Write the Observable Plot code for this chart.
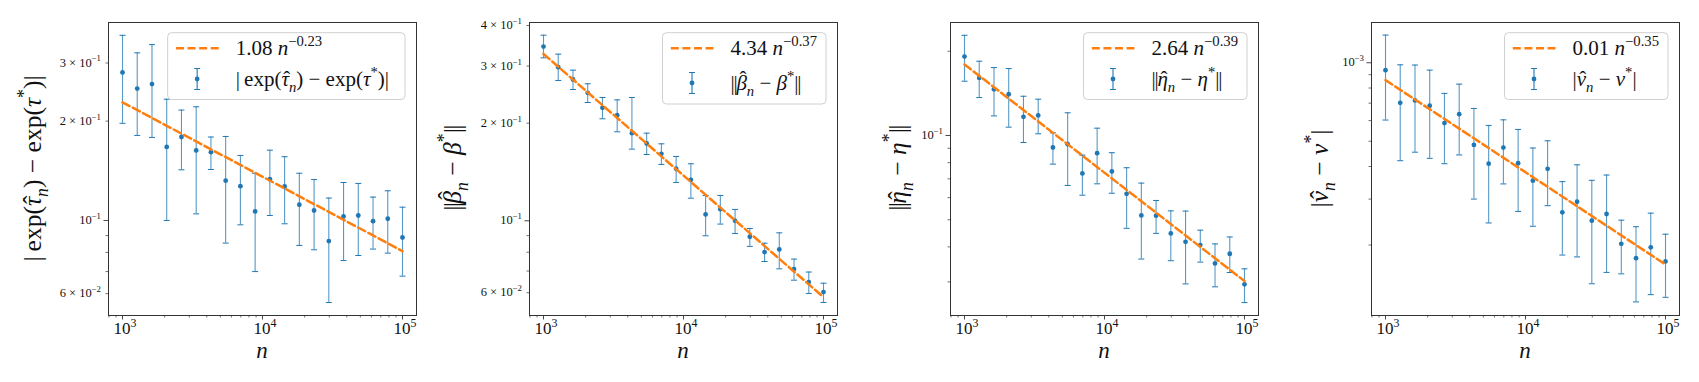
<!DOCTYPE html>
<html><head><meta charset="utf-8">
<script src="https://cdn.jsdelivr.net/npm/d3@7"></script>
<script src="https://cdn.jsdelivr.net/npm/@observablehq/plot@0.6"></script>
<style>
body{margin:0;background:#fff;}
#row{display:flex;width:1699px;height:382px;overflow:hidden;}
#row svg{flex:none;max-width:none;overflow:visible;}
svg text{white-space:pre;}
.rt{font-family:'Liberation Serif','DejaVu Serif',serif;fill:#111;}
</style></head><body><div id="row"></div>
<script>
// ---------- data ----------
const nValues = [1000, 1274, 1624, 2069, 2637, 3360, 4281, 5456, 6952, 8859, 11288, 14384, 18330, 23357, 29764, 37927, 48329, 61585, 78476, 100000];

const tauMean = [0.281, 0.251, 0.259, 0.167, 0.179, 0.163, 0.161, 0.132, 0.127, 0.1065, 0.1334, 0.1268, 0.1116, 0.1072, 0.0866, 0.1028, 0.1035, 0.0995, 0.1012, 0.0888];
const tauLow  = [0.197, 0.181, 0.1785, 0.100, 0.1424, 0.1047, 0.1427, 0.0854, 0.0970, 0.0700, 0.1035, 0.0977, 0.0840, 0.0815, 0.0564, 0.0756, 0.0783, 0.0819, 0.0796, 0.0678];
const tauHigh = [0.364, 0.322, 0.341, 0.233, 0.216, 0.221, 0.179, 0.1797, 0.1574, 0.139, 0.1633, 0.156, 0.139, 0.133, 0.1169, 0.1303, 0.1295, 0.1177, 0.123, 0.1097];

const betaMean = [0.3446, 0.2977, 0.2727, 0.248, 0.223, 0.2117, 0.1863, 0.1731, 0.1609, 0.1447, 0.1338, 0.1046, 0.1086, 0.1000, 0.0893, 0.0801, 0.0816, 0.0710, 0.0647, 0.0603];
const betaLow  = [0.318, 0.2708, 0.254, 0.2316, 0.2063, 0.1881, 0.1663, 0.1601, 0.1492, 0.1313, 0.1174, 0.0899, 0.0977, 0.0914, 0.0834, 0.0749, 0.0711, 0.0656, 0.0597, 0.0560];
const betaHigh = [0.3735, 0.3265, 0.2914, 0.2645, 0.240, 0.236, 0.240, 0.1863, 0.1727, 0.1579, 0.1499, 0.1197, 0.1197, 0.1084, 0.0947, 0.0853, 0.0918, 0.0762, 0.0695, 0.0642];

const etaMean = [0.1914, 0.1606, 0.1463, 0.1404, 0.1166, 0.1179, 0.0906, 0.0931, 0.0732, 0.0865, 0.0744, 0.0619, 0.0518, 0.0517, 0.0447, 0.0417, 0.0406, 0.0349, 0.0378, 0.0294];
const etaLow  = [0.1563, 0.1366, 0.1175, 0.1071, 0.0944, 0.1014, 0.0790, 0.0663, 0.0612, 0.0672, 0.0622, 0.0466, 0.0362, 0.0447, 0.0357, 0.0295, 0.0353, 0.0288, 0.0324, 0.0253];
const etaHigh = [0.228, 0.1842, 0.1748, 0.1734, 0.1381, 0.1348, 0.1022, 0.1205, 0.0851, 0.1062, 0.0868, 0.0767, 0.0676, 0.0586, 0.0538, 0.0537, 0.0459, 0.0410, 0.0434, 0.0334];

const nuMean = [9.37e-4, 7.02e-4, 7.17e-4, 6.84e-4, 5.87e-4, 6.35e-4, 4.84e-4, 4.10e-4, 4.73e-4, 4.12e-4, 3.53e-4, 3.92e-4, 2.67e-4, 2.93e-4, 2.48e-4, 2.63e-4, 2.02e-4, 1.78e-4, 1.96e-4, 1.73e-4];
const nuLow  = [6.03e-4, 4.21e-4, 4.54e-4, 4.30e-4, 4.10e-4, 4.43e-4, 3.00e-4, 2.43e-4, 3.43e-4, 2.69e-4, 2.36e-4, 2.83e-4, 1.83e-4, 1.80e-4, 1.42e-4, 1.57e-4, 1.55e-4, 1.21e-4, 1.29e-4, 1.26e-4];
const nuHigh = [1.277e-3, 9.82e-4, 9.80e-4, 9.37e-4, 7.63e-4, 8.28e-4, 6.68e-4, 5.75e-4, 6.04e-4, 5.55e-4, 4.71e-4, 5.02e-4, 3.50e-4, 4.06e-4, 3.54e-4, 3.71e-4, 2.49e-4, 2.35e-4, 2.65e-4, 2.20e-4];

// fitted power laws  a * n^(-b)
const fitCoef = [1.083, 4.36, 2.60, 0.00987];
const fitExp  = [0.2255, 0.375, 0.387, 0.3536];
const fitCoefLabel = ["1.08", "4.34", "2.64", "0.01"];
const fitExpLabel  = ["−0.23", "−0.37", "−0.39", "−0.35"];

// axes
const xDomain = [794.3, 125893];
const xMajor = [1e3, 1e4, 1e5];
const xMajorExp = ["3", "4", "5"];
const xMinor = [800, 900, 2000, 3000, 4000, 5000, 6000, 7000, 8000, 9000, 20000, 30000, 40000, 50000, 60000, 70000, 80000, 90000];

const yDomains = [[0.05152, 0.398], [0.05105, 0.4087], [0.02275, 0.2533], [1.073e-4, 1.427e-3]];
const yMajor = [[0.1], [0.1], [0.1], [1e-3]];
const yMinor = [
  [0.06, 0.07, 0.08, 0.09, 0.2, 0.3],
  [0.06, 0.07, 0.08, 0.09, 0.2, 0.3, 0.4],
  [0.03, 0.04, 0.05, 0.06, 0.07, 0.08, 0.09, 0.2],
  [2e-4, 3e-4, 4e-4, 5e-4, 6e-4, 7e-4, 8e-4, 9e-4]
];
const yTickValues = [[0.3, 0.2, 0.1, 0.06], [0.4, 0.3, 0.2, 0.1, 0.06], [0.1], [1e-3]];
const yTickMant   = [["3 × ", "2 × ", "", "6 × "], ["4 × ", "3 × ", "2 × ", "", "6 × "], [""], [""]];
const yTickExp    = [["−1", "−1", "−1", "−2"], ["−1", "−1", "−1", "−1", "−2"], ["−1"], ["−3"]];

// labels (rich text segments: [text, flags])
const yLabels = [
  [["|\u2009exp("], ["τ", "i hat"], ["n", "i sub"], [") − exp("], ["τ", "i"], ["*", "sup"], [")|"]],
  [["||"], ["β", "i hat tall"], ["n", "i sub"], [" − "], ["β", "i"], ["*", "sup"], ["||"]],
  [["||"], ["η", "i hat"], ["n", "i sub"], [" − "], ["η", "i"], ["*", "sup"], ["||"]],
  [["|"], ["ν", "i hat"], ["n", "i sub"], [" − "], ["ν", "i"], ["*", "sup"], ["|"]]
];
const xLabel = "n";

// ---------- drawing ----------
const series = [
  [tauMean, tauLow, tauHigh], [betaMean, betaLow, betaHigh],
  [etaMean, etaLow, etaHigh], [nuMean, nuLow, nuHigh]
];
const blue = "#1f77b4", orange = "#ff7f0e";
const panelW = [421, 421, 421, 436];
const frameW = 308, frameH = 293, mL = 108, mT = 22, H = 382;
const yLabelOffset = [-75, -76, -52, -51];
const capSymbol = {draw(ctx) { ctx.moveTo(-3, 0); ctx.lineTo(3, 0); }};

function rich(text, segs, size) {
  text.attr("class", "rt");
  let shift = 0, pendingDx = 0;
  for (const [t, f = ""] of segs) {
    const flags = f.split(" ");
    const small = flags.includes("sub") || flags.includes("sup");
    const target = flags.includes("sub") ? 0.28 * size : flags.includes("sup") ? -0.42 * size : 0;
    const ts = text.append("tspan").text(t)
      .attr("dy", target - shift)
      .attr("dx", pendingDx)
      .attr("font-size", small ? size * 0.7 : size)
      .attr("font-style", flags.includes("i") ? "italic" : "normal");
    if (t === "||") ts.attr("letter-spacing", -0.06 * size);
    pendingDx = 0;
    shift = target;
    if (flags.includes("hat")) {
      const lw = ts.node().getComputedTextLength();
      const lift = flags.includes("tall") ? -0.2 * size : -0.02 * size;
      const hat = text.append("tspan").text("ˆ")
        .attr("font-size", size).attr("font-style", "normal").attr("dy", lift - shift);
      const hw = hat.node().getComputedTextLength();
      const skew = 0.07 * size;
      hat.attr("dx", -(lw + hw) / 2 + skew);
      pendingDx = (lw - hw) / 2 - skew;
      shift = lift;
    }
  }
  return text;
}

const row = document.getElementById("row");
series.forEach(([mean, low, high], k) => {
  const W = panelW[k];
  const fitN = [nValues[0], nValues[nValues.length - 1]];
  const chart = Plot.plot({
    width: W, height: H,
    marginLeft: mL, marginRight: W - mL - frameW, marginTop: mT, marginBottom: H - mT - frameH,
    x: {type: "log", domain: xDomain},
    y: {type: "log", domain: yDomains[k]},
    style: {background: "white", overflow: "visible"},
    marks: [
      Plot.axisX(xMinor, {anchor: "bottom", tickSize: 2.5, strokeWidth: 0.7, stroke: "#333", fill: "none", label: null}),
      Plot.axisX(xMajor, {anchor: "bottom", tickSize: 4.5, strokeWidth: 0.9, stroke: "#333", fill: "none", label: null}),
      Plot.axisY(yMinor[k], {anchor: "left", tickSize: 2.5, strokeWidth: 0.7, stroke: "#333", fill: "none", label: null}),
      Plot.axisY(yMajor[k], {anchor: "left", tickSize: 4.5, strokeWidth: 0.9, stroke: "#333", fill: "none", label: null}),
      Plot.ruleX(nValues, {x: nValues, y1: low, y2: high, stroke: blue, strokeWidth: 1.1, strokeOpacity: 0.75}),
      Plot.dot(nValues, {x: nValues, y: low, symbol: capSymbol, stroke: blue, strokeWidth: 1, fill: "none"}),
      Plot.dot(nValues, {x: nValues, y: high, symbol: capSymbol, stroke: blue, strokeWidth: 1, fill: "none"}),
      Plot.dot(nValues, {x: nValues, y: mean, r: 2.4, fill: blue, stroke: "none"}),
      Plot.line(fitN, {x: d => d, y: d => fitCoef[k] * Math.pow(d, -fitExp[k]), stroke: orange, strokeWidth: 2.5, strokeDasharray: "8,3.6"}),
      Plot.frame({stroke: "#333", strokeWidth: 1})
    ]
  });
  row.appendChild(chart);
  const svg = d3.select(chart);
  const xs = chart.scale("x"), ys = chart.scale("y");
  const g = svg.append("g");

  // y tick labels
  yTickValues[k].forEach((v, i) => {
    const t = g.append("text").attr("text-anchor", "end").attr("x", mL - 7).attr("y", ys.apply(v) + 4.2);
    rich(t, [[yTickMant[k][i] + "10"], [yTickExp[k][i], "sup"]], 12.5);
  });
  // x tick labels
  xMajor.forEach((v, i) => {
    const t = g.append("text").attr("text-anchor", "middle").attr("x", xs.apply(v) + 3).attr("y", 334);
    rich(t, [["10"], [xMajorExp[i], "sup"]], 17);
  });
  // x label
  const xl = g.append("text").attr("text-anchor", "middle").attr("x", mL + frameW / 2).attr("y", 358);
  rich(xl, [[xLabel, "i"]], 23);
  // y label
  const yl = g.append("text").attr("text-anchor", "middle")
    .attr("transform", `translate(${mL + yLabelOffset[k] + 8},${mT + frameH / 2}) rotate(-90)`);
  rich(yl, yLabels[k], 25.5);

  // legend
  const tall = k === 1;
  const bh = tall ? 71.3 : 66.8;
  const lg = svg.append("g");
  const rect = lg.append("rect").attr("y", 32.7).attr("height", bh).attr("rx", 4)
    .attr("fill", "white").attr("fill-opacity", 0.8).attr("stroke", "#d0d0d0").attr("stroke-width", 1);
  const r1y = 48.3, r2y = tall ? 83 : 79;
  const t1 = lg.append("text").attr("text-anchor", "start").attr("y", r1y + 7);
  rich(t1, [[fitCoefLabel[k] + " "], ["n", "i"], [fitExpLabel[k], "sup"]], 21);
  const t2 = lg.append("text").attr("text-anchor", "start").attr("y", r2y + 7);
  rich(t2, yLabels[k], 21);
  const tw = Math.max(t1.node().getComputedTextLength(), t2.node().getComputedTextLength());
  const bw = 68 + tw + 9;
  const bx = mL + frameW - 11 - bw;
  rect.attr("x", bx).attr("width", bw);
  t1.attr("x", bx + 68); t2.attr("x", bx + 68);
  lg.append("line").attr("x1", bx + 8.3).attr("x2", bx + 51).attr("y1", r1y).attr("y2", r1y)
    .attr("stroke", orange).attr("stroke-width", 2.5).attr("stroke-dasharray", "8,3.6");
  const ex = bx + 29.5;
  lg.append("line").attr("x1", ex).attr("x2", ex).attr("y1", r2y - 10.5).attr("y2", r2y + 10.5)
    .attr("stroke", blue).attr("stroke-width", 1.1);
  [r2y - 10.5, r2y + 10.5].forEach(cy => lg.append("line").attr("x1", ex - 3).attr("x2", ex + 3)
    .attr("y1", cy).attr("y2", cy).attr("stroke", blue).attr("stroke-width", 1));
  lg.append("circle").attr("cx", ex).attr("cy", r2y).attr("r", 2.4).attr("fill", blue);
});
</script></body></html>
